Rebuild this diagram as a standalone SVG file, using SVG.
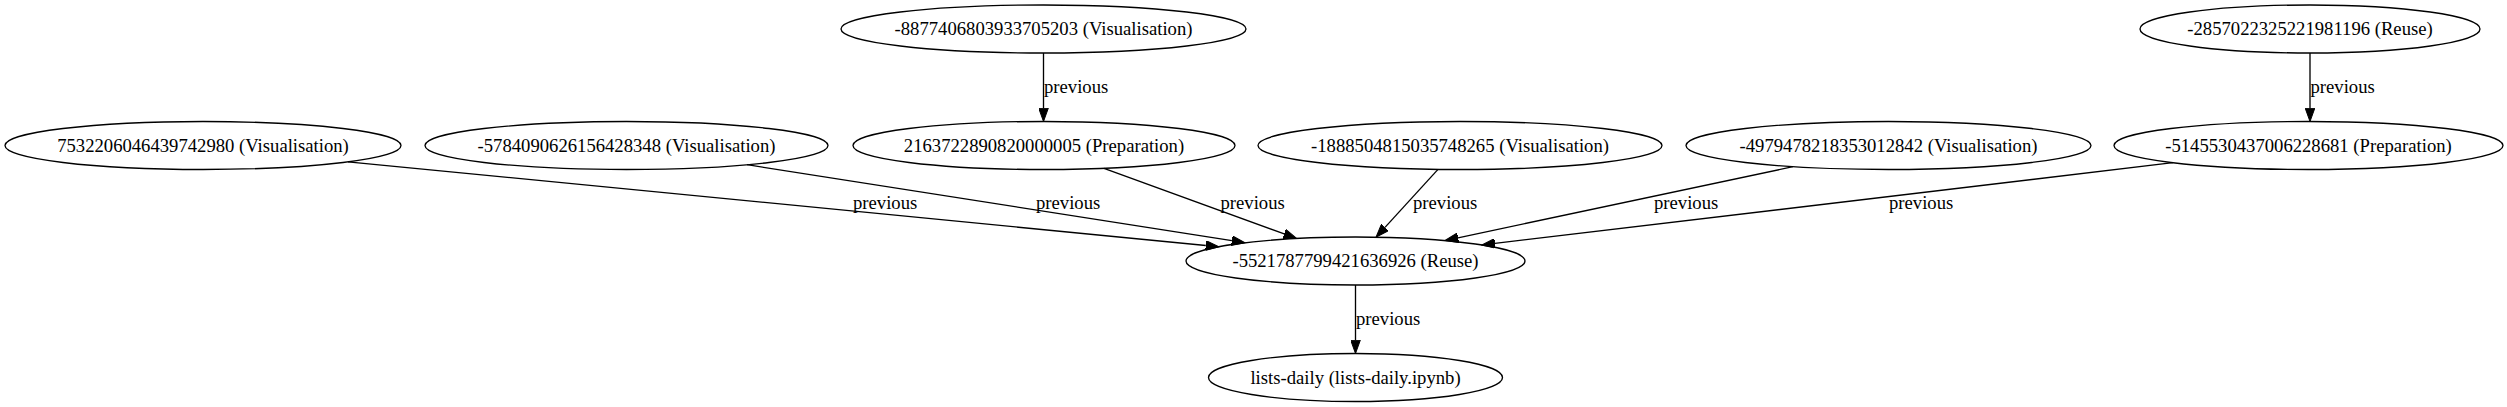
<svg xmlns="http://www.w3.org/2000/svg" width="2507" height="407" viewBox="0 0 2507 407">
<style>
.node ellipse{fill:none;stroke:#000;stroke-width:1.33}
.node text{font-family:"Liberation Serif","Times New Roman",serif;font-size:18.67px;text-anchor:middle;fill:#000}
.edge line{stroke:#000;stroke-width:1.33;fill:none}
.edge text{font-family:"Liberation Serif","Times New Roman",serif;font-size:18.67px;fill:#000}
</style>
<defs>
<marker id="arr" viewBox="0 0 14 10" refX="0" refY="5" markerWidth="14" markerHeight="10" markerUnits="userSpaceOnUse" orient="auto">
<path d="M0,0.2 L13.3,5 L0,9.8 z" fill="#000" stroke="#000" stroke-width="1"/>
</marker>
</defs>
<rect width="2507" height="407" fill="#fff"/>
<g id="connectors">
<g class="edge"><line x1="1043.5" y1="53" x2="1043.5" y2="108.2" marker-end="url(#arr)"/><text x="1044" y="92.5">previous</text></g>
<g class="edge"><line x1="2310" y1="53" x2="2310" y2="108.2" marker-end="url(#arr)"/><text x="2310.5" y="92.5">previous</text></g>
<g class="edge"><line x1="348" y1="161.8" x2="1205.8" y2="245.5" marker-end="url(#arr)"/><text x="853" y="208.5">previous</text></g>
<g class="edge"><line x1="747" y1="164.7" x2="1231.9" y2="240.7" marker-end="url(#arr)"/><text x="1036" y="208.5">previous</text></g>
<g class="edge"><line x1="1104" y1="168.3" x2="1284.2" y2="233.9" marker-end="url(#arr)"/><text x="1220.5" y="208.5">previous</text></g>
<g class="edge"><line x1="1438" y1="169.4" x2="1385" y2="227.4" marker-end="url(#arr)"/><text x="1413" y="208.5">previous</text></g>
<g class="edge"><line x1="1793" y1="166.7" x2="1458" y2="237.8" marker-end="url(#arr)"/><text x="1654" y="208.5">previous</text></g>
<g class="edge"><line x1="2173" y1="162.7" x2="1494.9" y2="243.4" marker-end="url(#arr)"/><text x="1889" y="208.5">previous</text></g>
<g class="edge"><line x1="1355.5" y1="285" x2="1355.5" y2="340.2" marker-end="url(#arr)"/><text x="1356" y="324.5">previous</text></g>
</g>
<g id="n3" class="node"><ellipse cx="1043.5" cy="29" rx="202.5" ry="24"/><text x="1043.5" y="35">-8877406803933705203 (Visualisation)</text></g>
<g id="n10" class="node"><ellipse cx="2310" cy="29" rx="170" ry="24"/><text x="2310" y="35">-2857022325221981196 (Reuse)</text></g>
<g id="n1" class="node"><ellipse cx="203" cy="145.5" rx="198" ry="24"/><text x="203" y="151.5">7532206046439742980 (Visualisation)</text></g>
<g id="n2" class="node"><ellipse cx="626.5" cy="145.5" rx="201.5" ry="24"/><text x="626.5" y="151.5">-5784090626156428348 (Visualisation)</text></g>
<g id="n4" class="node"><ellipse cx="1044" cy="145.5" rx="191" ry="24"/><text x="1044" y="151.5">2163722890820000005 (Preparation)</text></g>
<g id="n5" class="node"><ellipse cx="1460" cy="145.5" rx="202" ry="24"/><text x="1460" y="151.5">-1888504815035748265 (Visualisation)</text></g>
<g id="n8" class="node"><ellipse cx="1888.5" cy="145.5" rx="202.5" ry="24"/><text x="1888.5" y="151.5">-4979478218353012842 (Visualisation)</text></g>
<g id="n9" class="node"><ellipse cx="2308.5" cy="145.5" rx="194.5" ry="24"/><text x="2308.5" y="151.5">-5145530437006228681 (Preparation)</text></g>
<g id="n6" class="node"><ellipse cx="1355.5" cy="261" rx="169.5" ry="24"/><text x="1355.5" y="267">-5521787799421636926 (Reuse)</text></g>
<g id="n7" class="node"><ellipse cx="1355.5" cy="377.5" rx="147" ry="24"/><text x="1355.5" y="383.5">lists-daily (lists-daily.ipynb)</text></g>
</svg>
